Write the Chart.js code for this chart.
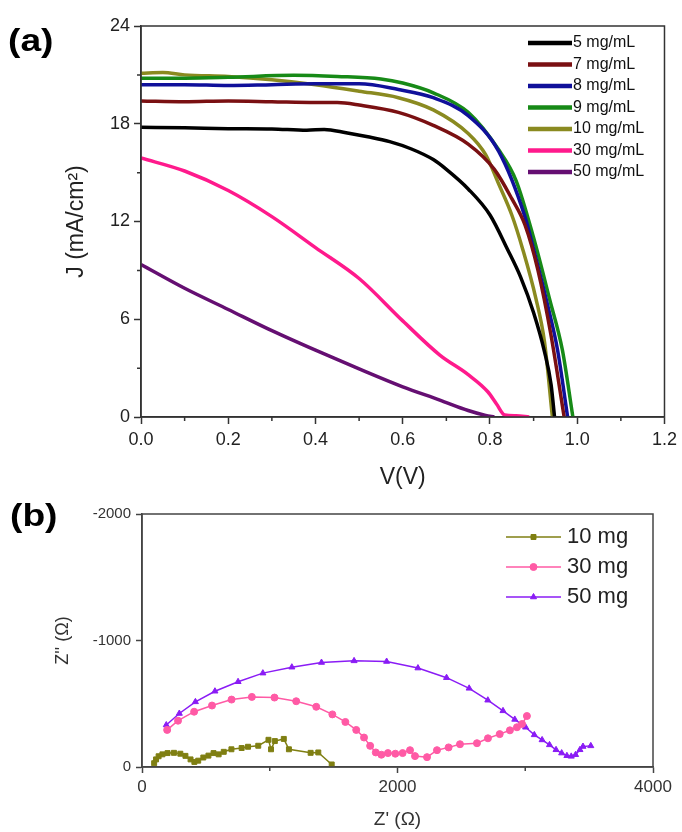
<!DOCTYPE html>
<html>
<head>
<meta charset="utf-8">
<script src="https://cdn.jsdelivr.net/npm/chart.js@4.4.0/dist/chart.umd.min.js"></script>
<style>
  body { margin: 0; background: #fff; width: 682px; height: 832px; position: relative; overflow: hidden; }
  canvas { position: absolute; left: 0; }
  .tag { position: absolute; z-index: 2; font: bold 31px Arial, "Liberation Sans", sans-serif; color: #000; line-height: 34px; transform: scaleX(1.2); transform-origin: left top; }
</style>
</head>
<body>
<canvas id="jv" width="682" height="500" style="top:0"></canvas>
<canvas id="eis" width="682" height="332" style="top:500px"></canvas>
<div class="tag" style="left:8px;top:24px">(a)</div>
<div class="tag" style="left:10px;top:499px">(b)</div>
<script>
// ---- (a) J-V curves ----
const jvLabels = ['5 mg/mL', '7 mg/mL', '8 mg/mL', '9 mg/mL', '10 mg/mL', '30 mg/mL', '50 mg/mL'];
const jvColors = ['#000000', '#7a1012', '#10109a', '#178a17', '#8a8a20', '#ff1a8c', '#650f72'];

const v5  = [0, 0.1, 0.2, 0.3, 0.38, 0.42, 0.47, 0.52, 0.57, 0.62, 0.67, 0.70, 0.75, 0.80, 0.84, 0.87, 0.90, 0.925, 0.94, 0.948];
const j5  = [17.78, 17.75, 17.7, 17.68, 17.6, 17.65, 17.45, 17.2, 16.9, 16.45, 15.8, 15.2, 14.0, 12.4, 10.3, 8.6, 6.4, 4.0, 2.0, 0];
const v7  = [0, 0.1, 0.2, 0.3, 0.4, 0.45, 0.5, 0.59, 0.67, 0.75, 0.81, 0.85, 0.88, 0.91, 0.94, 0.97];
const j7  = [19.4, 19.35, 19.4, 19.35, 19.3, 19.3, 19.15, 18.7, 17.9, 16.75, 15.2, 13.4, 11.8, 9.0, 5.0, 0];
const v8  = [0, 0.1, 0.2, 0.3, 0.4, 0.5, 0.59, 0.67, 0.75, 0.82, 0.88, 0.90, 0.93, 0.955, 0.978];
const j8  = [20.4, 20.4, 20.35, 20.4, 20.45, 20.45, 20.1, 19.6, 18.5, 16.3, 12.3, 10.3, 7.1, 4.1, 0];
const v9  = [0, 0.1, 0.2, 0.35, 0.45, 0.55, 0.6, 0.67, 0.75, 0.82, 0.86, 0.90, 0.937, 0.966, 0.99];
const j9  = [20.8, 20.8, 20.85, 20.97, 20.9, 20.75, 20.5, 19.9, 18.7, 16.4, 14.5, 11.0, 7.2, 4.1, 0];
const v10 = [0, 0.05, 0.1, 0.2, 0.3, 0.4, 0.5, 0.59, 0.67, 0.75, 0.79, 0.82, 0.85, 0.875, 0.905, 0.925, 0.943];
const j10 = [21.1, 21.15, 21.0, 20.9, 20.7, 20.4, 20.0, 19.6, 18.85, 17.4, 16.1, 14.3, 12.4, 10.3, 7.3, 4.6, 0];
const v30 = [0, 0.1, 0.2, 0.3, 0.4, 0.5, 0.6, 0.685, 0.75, 0.795, 0.815, 0.834, 0.86, 0.89];
const j30 = [15.9, 15.1, 13.9, 12.3, 10.4, 8.5, 5.9, 3.8, 2.6, 1.55, 0.8, 0.12, 0.08, 0];
const v50 = [0, 0.1, 0.2, 0.3, 0.4, 0.5, 0.6, 0.685, 0.75, 0.79, 0.81];
const j50 = [9.36, 7.9, 6.6, 5.3, 4.1, 2.95, 1.85, 1.04, 0.4, 0.1, 0];

const jvV = [v5, v7, v8, v9, v10, v30, v50];
const jvJ = [j5, j7, j8, j9, j10, j30, j50];

// ---- (b) Nyquist plot ----
const eisLabels = ['10 mg', '30 mg', '50 mg'];
const eisColors = ['#7f7f12', '#ff5aa5', '#8a1cf5'];
const eisMarkers = ['rect', 'circle', 'triangle'];

const zr10 = [95, 110, 130, 160, 200, 250, 300, 340, 380, 410, 440, 480, 520, 560, 600, 640, 700, 780, 830, 910, 990, 1010, 1040, 1110, 1150, 1320, 1380, 1485];
const zi10 = [-30, -60, -85, -100, -110, -112, -105, -88, -60, -40, -50, -75, -90, -110, -100, -120, -140, -150, -160, -168, -215, -140, -205, -222, -140, -112, -115, -20];
const zr30 = [197, 282, 408, 548, 701, 860, 1037, 1207, 1364, 1490, 1592, 1677, 1738, 1786, 1830, 1874, 1925, 1983, 2040, 2098, 2137, 2231, 2309, 2400, 2489, 2622, 2708, 2800, 2880, 2935, 2975, 3013];
const zi30 = [-293, -366, -437, -486, -533, -554, -549, -520, -476, -416, -356, -293, -233, -167, -115, -97, -110, -105, -110, -133, -86, -78, -133, -155, -180, -188, -227, -260, -290, -314, -340, -403];
const zr50 = [190, 292, 418, 571, 752, 946, 1173, 1405, 1660, 1915, 2160, 2384, 2561, 2707, 2826, 2918, 3003, 3071, 3132, 3190, 3241, 3285, 3326, 3360, 3394, 3428, 3452, 3513];
const zi50 = [-332, -423, -515, -599, -674, -742, -789, -826, -839, -834, -782, -706, -622, -528, -444, -376, -314, -254, -214, -175, -136, -110, -89, -84, -97, -136, -162, -167];

const eisRe = [zr10, zr30, zr50];
const eisIm = [zi10, zi30, zi50];

const FONT = 'Arial, "Liberation Sans", sans-serif';
const pts = (xs, ys) => xs.map((x, i) => ({ x: x, y: ys[i] }));

// box frame + minor ticks
const frame = {
  id: 'frame',
  afterDraw(chart, args, o) {
    const { ctx, chartArea: a } = chart;
    const xs = chart.scales.x, ys = chart.scales.y;
    ctx.save();
    ctx.strokeStyle = o.color;
    ctx.lineWidth = o.width;
    ctx.strokeRect(a.left, a.top, a.right - a.left, a.bottom - a.top);
    ctx.beginPath();
    o.minorX.forEach(v => {
      const p = xs.getPixelForValue(v);
      ctx.moveTo(p, a.bottom); ctx.lineTo(p, a.bottom + o.len);
    });
    o.minorY.forEach(v => {
      const p = ys.getPixelForValue(v);
      ctx.moveTo(a.left, p); ctx.lineTo(a.left - o.len, p);
    });
    ctx.stroke();
    ctx.restore();
  }
};

// legend drawn inside the plot
const insideLegend = {
  id: 'insideLegend',
  afterDraw(chart, args, o) {
    const ctx = chart.ctx;
    ctx.save();
    ctx.font = o.font;
    ctx.textBaseline = 'middle';
    chart.data.datasets.forEach((ds, i) => {
      const y = o.y + i * o.rowH;
      ctx.strokeStyle = ds.borderColor;
      ctx.lineWidth = o.lineW;
      ctx.beginPath();
      ctx.moveTo(o.x, y);
      ctx.lineTo(o.x + o.lineLen, y);
      ctx.stroke();
      if (o.marker) {
        ctx.fillStyle = ds.backgroundColor;
        ctx.lineWidth = 1;
        Chart.helpers.drawPoint(ctx, { pointStyle: ds.pointStyle, radius: ds.pointRadius, rotation: 0, borderWidth: 1 }, o.x + o.lineLen / 2, y);
      }
      ctx.fillStyle = o.textColor;
      ctx.fillText(ds.label, o.x + o.lineLen + o.gap, y);
    });
    ctx.restore();
  }
};

const minorJvX = [], minorJvY = [];
for (let v = 0.1; v < 1.2; v += 0.2) minorJvX.push(v);
for (let j = 3; j < 24; j += 6) minorJvY.push(j);

new Chart(document.getElementById('jv'), {
  type: 'scatter',
  data: {
    datasets: jvLabels.map((lab, i) => ({
      label: lab,
      data: pts(jvV[i], jvJ[i]),
      showLine: true,
      borderColor: jvColors[i],
      backgroundColor: jvColors[i],
      borderWidth: 3.5,
      pointRadius: 0,
      cubicInterpolationMode: 'monotone'
    }))
  },
  options: {
    responsive: false,
    animation: false,
    layout: { padding: { top: 26, right: 17, left: 0, bottom: 0 } },
    plugins: {
      legend: { display: false },
      tooltip: { enabled: false },
      frame: { color: '#333', width: 1.5, len: 4, minorX: minorJvX, minorY: minorJvY },
      insideLegend: { x: 528, y: 43, rowH: 21.5, lineLen: 44, lineW: 4.5, gap: 1, font: '16px ' + FONT, textColor: '#111' }
    },
    scales: {
      x: {
        type: 'linear', min: 0, max: 1.2,
        afterFit(s) { s.height = 83; },
        ticks: { stepSize: 0.2, callback: v => v.toFixed(1), color: '#222', font: { size: 18, family: FONT }, padding: 5, maxRotation: 0 },
        grid: { drawOnChartArea: false, tickLength: 7, tickColor: '#333', tickWidth: 1.5 },
        border: { color: '#333', width: 1.5 },
        title: { display: true, text: 'V(V)', color: '#222', font: { size: 23, family: FONT }, padding: { top: 0, bottom: 9 } }
      },
      y: {
        type: 'linear', min: 0, max: 24,
        afterFit(s) { s.width = 141; },
        ticks: { stepSize: 6, color: '#222', font: { size: 18, family: FONT }, padding: 4 },
        grid: { drawOnChartArea: false, tickLength: 7, tickColor: '#333', tickWidth: 1.5 },
        border: { color: '#333', width: 1.5 },
        title: { display: true, text: 'J (mA/cm²)', color: '#222', font: { size: 23, family: FONT }, padding: { top: 63, bottom: 0 } }
      }
    }
  },
  plugins: [frame, insideLegend]
});

new Chart(document.getElementById('eis'), {
  type: 'scatter',
  data: {
    datasets: eisLabels.map((lab, i) => ({
      label: lab,
      data: pts(eisRe[i], eisIm[i]),
      showLine: true,
      borderColor: eisColors[i],
      backgroundColor: eisColors[i],
      borderWidth: 1.5,
      pointStyle: eisMarkers[i],
      pointRadius: 3.5,
      pointBorderWidth: 1,
      tension: 0
    }))
  },
  options: {
    responsive: false,
    animation: false,
    layout: { padding: { top: 12, right: 29, left: 0, bottom: 0 } },
    plugins: {
      legend: { display: false },
      tooltip: { enabled: false },
      frame: { color: '#444', width: 1.5, len: 4, minorX: [1000, 3000], minorY: [] },
      insideLegend: { x: 506, y: 37, rowH: 30, lineLen: 55, lineW: 1.5, gap: 6, marker: true, font: '22px ' + FONT, textColor: '#222' }
    },
    scales: {
      x: {
        type: 'linear', min: 0, max: 4000,
        afterFit(s) { s.height = 65; },
        ticks: { stepSize: 2000, callback: v => String(v), color: '#333', font: { size: 17, family: FONT }, padding: 4, maxRotation: 0 },
        grid: { drawOnChartArea: false, tickLength: 6, tickColor: '#444', tickWidth: 1.5 },
        border: { color: '#444', width: 1.5 },
        title: { display: true, text: "Z' (Ω)", color: '#333', font: { size: 19, family: FONT }, padding: { top: 0, bottom: 1 } }
      },
      y: {
        type: 'linear', min: -2000, max: 0, reverse: true,
        afterFit(s) { s.width = 142; },
        ticks: { stepSize: 1000, callback: v => String(v), color: '#333', font: { size: 15, family: FONT }, padding: 5 },
        grid: { drawOnChartArea: false, tickLength: 6, tickColor: '#444', tickWidth: 1.5 },
        border: { color: '#444', width: 1.5 },
        title: { display: true, text: "Z'' (Ω)", color: '#333', font: { size: 18, family: FONT }, padding: { top: 52, bottom: 0 } }
      }
    }
  },
  plugins: [frame, insideLegend]
});
</script>
</body>
</html>
